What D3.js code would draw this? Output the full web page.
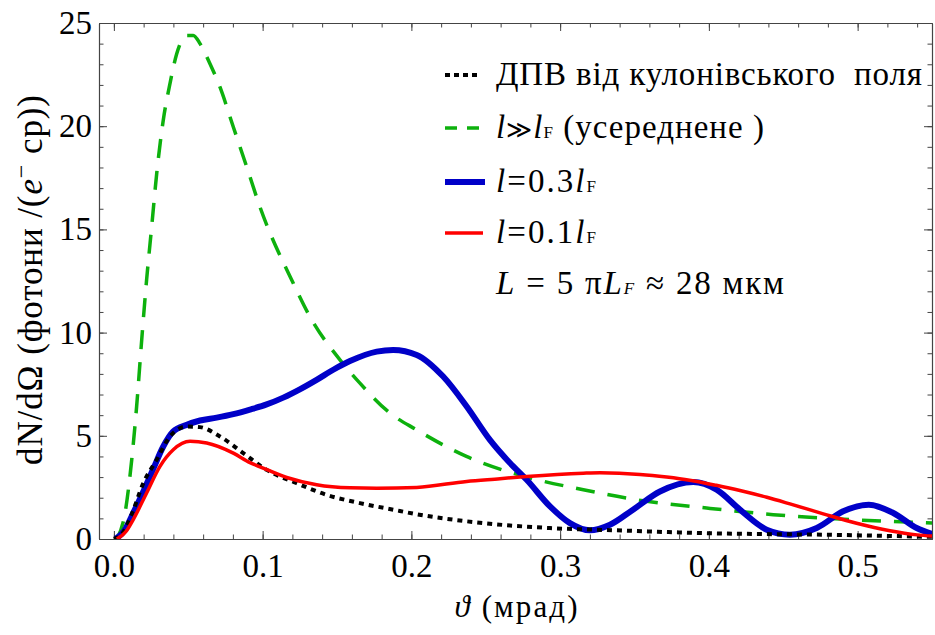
<!DOCTYPE html>
<html>
<head>
<meta charset="utf-8">
<script src="https://cdn.jsdelivr.net/npm/d3@7"></script>
<style>
  body { margin: 0; background: #fff; }
  svg { display: block; font-family: "Liberation Serif", "Times New Roman", serif; }
</style>
</head>
<body>
<div id="chart"></div>
<script>
// curves: [theta (mrad), dN/dOmega]
var coulomb = [
  [0.0, 0], [0.006, 0.3], [0.012, 1.2], [0.0198, 2.71], [0.0288, 3.84], [0.0377, 4.97],
  [0.049, 5.45], [0.0579, 5.42], [0.0713, 4.97], [0.087, 4.16], [0.1027, 3.35],
  [0.123, 2.7], [0.143, 2.14], [0.1654, 1.74], [0.1878, 1.42], [0.2036, 1.2],
  [0.2483, 0.77], [0.2932, 0.53], [0.338, 0.42], [0.3939, 0.29], [0.4836, 0.2], [0.552, 0.1]
]
var averaged = [
  [0.002, 0], [0.0075, 1.26], [0.012, 3.84], [0.0153, 6.42], [0.0187, 9.64], [0.022, 12.55],
  [0.0254, 15.12], [0.0288, 17.71], [0.0332, 20.29], [0.0377, 22.06], [0.0422, 23.5],
  [0.049, 24.4], [0.0534, 24.4], [0.0579, 24.0], [0.0646, 23.03], [0.0713, 21.9],
  [0.0803, 19.96], [0.0893, 18.03], [0.0982, 16.09], [0.1206, 12.39], [0.1318, 10.77],
  [0.152, 8.68], [0.1654, 7.55], [0.1856, 6.1], [0.2035, 5.29], [0.237, 4.0],
  [0.2775, 3.0], [0.3156, 2.39], [0.356, 1.85], [0.3985, 1.5], [0.4433, 1.18],
  [0.488, 0.97], [0.552, 0.77]
]
var l03 = [
  [0.001, 0], [0.007, 0.4], [0.013, 1.26], [0.0198, 2.3], [0.0265, 3.4], [0.0332, 4.48],
  [0.0399, 5.21], [0.049, 5.53], [0.0579, 5.74], [0.0691, 5.88], [0.0803, 6.05],
  [0.0915, 6.27], [0.1027, 6.52], [0.1139, 6.85], [0.125, 7.25], [0.1363, 7.71], [0.1475, 8.2],
  [0.1587, 8.62], [0.1767, 9.08], [0.1878, 9.16], [0.2036, 8.92], [0.2214, 7.87], [0.2372, 6.42],
  [0.2528, 4.8], [0.2663, 3.68], [0.2775, 2.87], [0.2932, 1.58], [0.3066, 0.77],
  [0.32, 0.42], [0.3335, 0.69], [0.349, 1.42], [0.3671, 2.3], [0.3895, 2.76],
  [0.4052, 2.39], [0.4209, 1.42], [0.4389, 0.45], [0.4545, 0.21], [0.4725, 0.53],
  [0.4903, 1.34], [0.5075, 1.66], [0.524, 1.26], [0.5397, 0.53], [0.552, 0.2]
]
var l01 = [
  [0.002, 0], [0.008, 0.35], [0.013, 0.94], [0.022, 2.23], [0.031, 3.52], [0.0399, 4.32],
  [0.0512, 4.73], [0.0624, 4.65], [0.0803, 4.16], [0.0915, 3.7], [0.0982, 3.5],
  [0.1162, 2.98], [0.1363, 2.63], [0.1587, 2.48], [0.1767, 2.46], [0.2036, 2.5],
  [0.2372, 2.79], [0.2596, 2.92], [0.2775, 3.03], [0.3156, 3.19], [0.3268, 3.21],
  [0.3537, 3.13], [0.3716, 3.0], [0.387, 2.85], [0.405, 2.6], [0.4209, 2.35],
  [0.439, 2.02], [0.4545, 1.7], [0.4769, 1.22], [0.4993, 0.76], [0.5217, 0.4],
  [0.54, 0.2], [0.552, 0.13]
]

var xMajor = [0, 0.1, 0.2, 0.3, 0.4, 0.5]
var yMajor = [0, 5, 10, 15, 20, 25]

var width = 935, height = 635
var frame = {left: 99, right: 932, top: 23, bottom: 539}

var svg = d3.select("#chart").append("svg")
    .attr("width", width)
    .attr("height", height)

var x = d3.scaleLinear().domain([-0.01, 0.55]).range([frame.left, frame.right])
var y = d3.scaleLinear().domain([0, 25]).range([frame.bottom, frame.top])

var frameColor = "#444"
var xMinor = d3.range(0, 0.551, 0.02)
var yMinor = d3.range(0, 25.01, 1)

function styleAxis(g) {
  g.select(".domain").attr("stroke", frameColor).attr("stroke-width", 1.1)
  g.selectAll(".tick line").attr("stroke", frameColor)
  g.selectAll(".tick text")
    .attr("fill", "#000")
    .attr("font-family", "Liberation Serif")
    .attr("font-size", 33)
}

// minor ticks (all four sides, pointing inward)
svg.append("g").attr("transform", "translate(0," + frame.bottom + ")")
  .call(d3.axisBottom(x).tickValues(xMinor).tickSizeInner(-4.5).tickSizeOuter(0).tickFormat(""))
  .call(styleAxis)
svg.append("g").attr("transform", "translate(0," + frame.top + ")")
  .call(d3.axisTop(x).tickValues(xMinor).tickSizeInner(-4.5).tickSizeOuter(0).tickFormat(""))
  .call(styleAxis)
svg.append("g").attr("transform", "translate(" + frame.left + ",0)")
  .call(d3.axisLeft(y).tickValues(yMinor).tickSizeInner(-4.5).tickSizeOuter(0).tickFormat(""))
  .call(styleAxis)
svg.append("g").attr("transform", "translate(" + frame.right + ",0)")
  .call(d3.axisRight(y).tickValues(yMinor).tickSizeInner(-4.5).tickSizeOuter(0).tickFormat(""))
  .call(styleAxis)

// major ticks + labels
svg.append("g").attr("transform", "translate(0," + frame.bottom + ")")
  .call(d3.axisBottom(x).tickValues(xMajor).tickSizeInner(-8).tickSizeOuter(0)
        .tickPadding(15).tickFormat(d3.format(".1f")))
  .call(styleAxis)
svg.append("g").attr("transform", "translate(0," + frame.top + ")")
  .call(d3.axisTop(x).tickValues(xMajor).tickSizeInner(-8).tickSizeOuter(0).tickFormat(""))
  .call(styleAxis)
svg.append("g").attr("transform", "translate(" + frame.left + ",0)")
  .call(d3.axisLeft(y).tickValues(yMajor).tickSizeInner(-8).tickSizeOuter(0)
        .tickPadding(7).tickFormat(d3.format("d")))
  .call(styleAxis)
svg.append("g").attr("transform", "translate(" + frame.right + ",0)")
  .call(d3.axisRight(y).tickValues(yMajor).tickSizeInner(-8).tickSizeOuter(0).tickFormat(""))
  .call(styleAxis)

// clip to frame
svg.append("clipPath").attr("id", "plot")
  .append("rect")
  .attr("x", frame.left).attr("y", frame.top - 2)
  .attr("width", frame.right - frame.left).attr("height", frame.bottom - frame.top + 2)

var line = d3.line()
    .x(function(d) { return x(d[0]) })
    .y(function(d) { return y(d[1]) })
    .curve(d3.curveMonotoneX)

var curves = [
  {data: averaged, color: "#0db10d", width: 3.5, dash: "19,13"},
  {data: l03, color: "#0000c8", width: 6, dash: null},
  {data: coulomb, color: "#000", width: 4, dash: "5,5"},
  {data: l01, color: "#ff0000", width: 3.5, dash: null}
]

svg.append("g").attr("clip-path", "url(#plot)")
  .selectAll("path")
  .data(curves)
  .enter()
  .append("path")
  .attr("d", function(d) { return line(d.data) })
  .attr("fill", "none")
  .attr("stroke", function(d) { return d.color })
  .attr("stroke-width", function(d) { return d.width })
  .attr("stroke-dasharray", function(d) { return d.dash })
  .attr("stroke-linejoin", "round")

// axis labels
var xlab = svg.append("text")
  .attr("x", 516).attr("y", 617)
  .attr("text-anchor", "middle")
  .attr("font-size", 31)
  .attr("textLength", 123).attr("lengthAdjust", "spacing")
xlab.append("tspan").attr("font-style", "italic").text("ϑ")
xlab.append("tspan").text(" (мрад)")

var ylab = svg.append("text")
  .attr("transform", "translate(42,280) rotate(-90)")
  .attr("text-anchor", "middle")
  .attr("font-size", 35)
  .attr("textLength", 370).attr("lengthAdjust", "spacing")
ylab.append("tspan").text("dN/dΩ (фотони /(")
ylab.append("tspan").attr("font-style", "italic").text("e")
ylab.append("tspan").attr("dy", -13).attr("font-size", 24).text("−")
ylab.append("tspan").attr("dy", 13).text(" ср))")

// legend
var legendX = 445, textX = 496
var legend = [
  {y: 75, color: "#000", width: 4, dash: "5,4", len: 35},
  {y: 128, color: "#0db10d", width: 3.5, dash: "12,10", len: 35},
  {y: 182, color: "#0000c8", width: 6, dash: null, len: 40},
  {y: 233, color: "#ff0000", width: 3.5, dash: null, len: 38}
]
svg.append("g").selectAll("line")
  .data(legend)
  .enter()
  .append("line")
  .attr("x1", legendX)
  .attr("x2", function(d) { return legendX + d.len })
  .attr("y1", function(d) { return d.y })
  .attr("y2", function(d) { return d.y })
  .attr("stroke", function(d) { return d.color })
  .attr("stroke-width", function(d) { return d.width })
  .attr("stroke-dasharray", function(d) { return d.dash })

var fs = 33, subFs = 17
function legendText(yb, len) {
  return svg.append("text").attr("x", textX).attr("y", yb).attr("font-size", fs)
    .attr("textLength", len).attr("lengthAdjust", "spacing")
}
legendText(85, 426).attr("xml:space", "preserve").text("ДПВ від кулонівського  поля")

var t2 = legendText(138, 268)
t2.append("tspan").attr("font-style", "italic").text("l")
t2.append("tspan").attr("font-family", "DejaVu Serif").attr("font-size", 25).text("≫")
t2.append("tspan").attr("font-style", "italic").text("l")
t2.append("tspan").attr("font-size", subFs).text("F")
t2.append("tspan").text(" (усереднене )")

function lLine(yb, val) {
  var t = legendText(yb, 100)
  t.append("tspan").attr("font-style", "italic").text("l")
  t.append("tspan").text("=" + val)
  t.append("tspan").attr("font-style", "italic").text("l")
  t.append("tspan").attr("font-size", subFs).text("F")
}
lLine(192, "0.3")
lLine(243, "0.1")

var t5 = legendText(294, 288)
t5.append("tspan").attr("font-style", "italic").text("L")
t5.append("tspan").text(" = 5 π")
t5.append("tspan").attr("font-style", "italic").text("L")
t5.append("tspan").attr("font-style", "italic").attr("font-size", subFs).text("F")
t5.append("tspan").text(" ≈ 28 мкм")
</script>
</body>
</html>
